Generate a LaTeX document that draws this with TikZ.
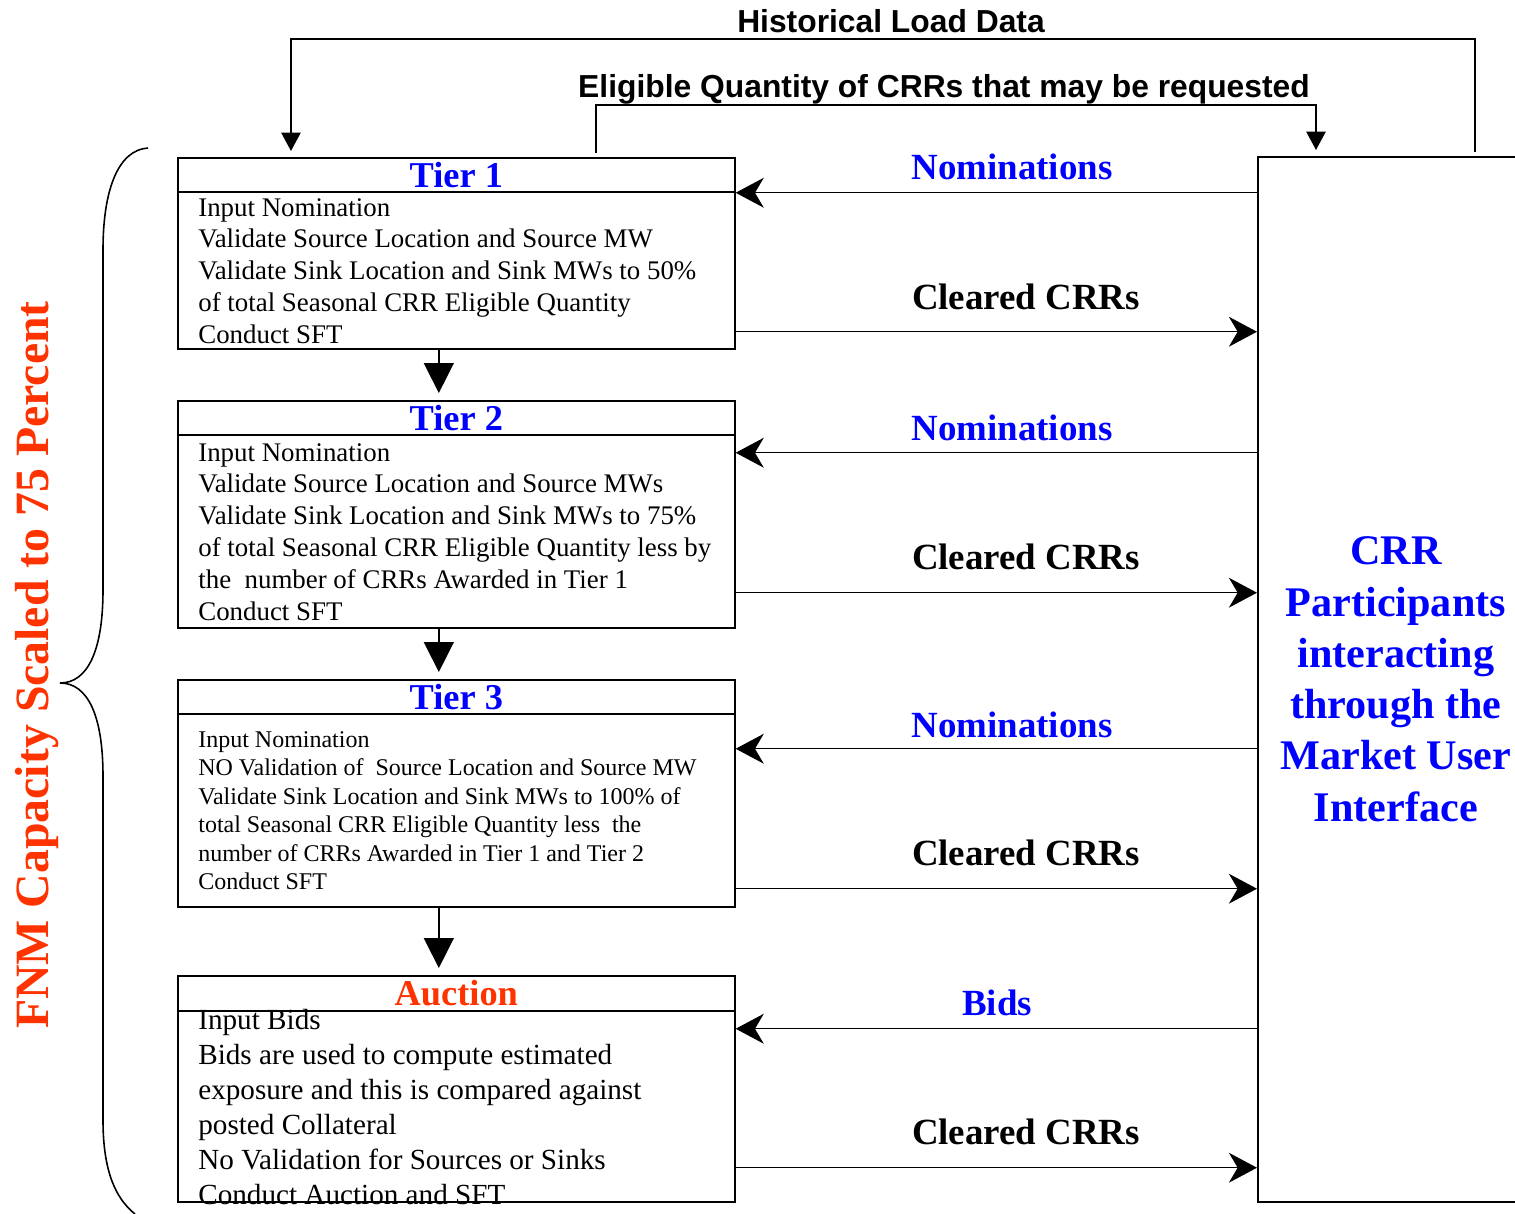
\documentclass[tikz,border=0pt]{standalone}
\usepackage{fontspec}
\setmainfont{Liberation Serif}
\newfontfamily\arialfont{Liberation Sans}
\usetikzlibrary{arrows.meta,positioning,calc}
\definecolor{tierblue}{RGB}{0,0,255}
\definecolor{fnmred}{RGB}{255,51,0}
\tikzset{
		tierbox/.style={draw, line width=1pt, inner sep=0pt, anchor=north west,
			minimum width=11.14cm},
		tierhead/.style={draw, line width=1pt, inner sep=0pt, anchor=north,
			minimum width=11.14cm, minimum height=0.68cm, text=tierblue,
			font=\fontsize{20.7}{24}\selectfont\bfseries},
		tiertext/.style={inner sep=0pt, anchor=north west, align=left},
		flowlbl/.style={inner sep=0pt, anchor=base,
			font=\fontsize{21}{25}\selectfont\bfseries},
		toplbl/.style={inner sep=0pt, anchor=base,
			font=\arialfont\fontsize{18.1}{22}\selectfont\bfseries},
		down/.style={-{Triangle[length=17pt,width=17pt]}, line width=0.8pt,
			shorten >=0.14cm},
		flow/.style={-{Stealth[length=16pt,width=17pt,inset=5pt]}, line width=0.8pt},
		feed/.style={-{Triangle[length=10.5pt,width=11pt]}, line width=1pt,
			shorten <=0.08cm, shorten >=0.12cm},
	}
\begin{document}
\begin{tikzpicture}[x=0.02cm, y=-0.02cm]
	\useasboundingbox (0,0) rectangle (1515,1214);

	% tier boxes
	\node[tierbox, minimum height=3.82cm] (tier1) at (177,157) {};
	\node[tierbox, minimum height=4.54cm] (tier2) at (177,400) {};
	\node[tierbox, minimum height=4.54cm] (tier3) at (177,679) {};
	\node[tierbox, minimum height=4.52cm] (auction) at (177,975) {};

	\node[tierhead] (head1) at (tier1.north) {Tier 1};
	\node[tierhead] (head2) at (tier2.north) {Tier 2};
	\node[tierhead] (head3) at (tier3.north) {Tier 3};
	\node[tierhead, minimum height=0.70cm, text=fnmred] (head4) at (auction.north) {Auction};

	\node[tiertext, font=\fontsize{15.3}{18.1}\selectfont] (txt1) at (198,198)
		{Input Nomination\\Validate Source Location and Source MW\\
		Validate Sink Location and Sink MWs to 50\%\\
		of total Seasonal CRR Eligible Quantity\\Conduct SFT};
	\node[tiertext, font=\fontsize{15.3}{18.1}\selectfont] (txt2) at (198,443)
		{Input Nomination\\Validate Source Location and Source MWs\\
		Validate Sink Location and Sink MWs to 75\%\\
		of total Seasonal CRR Eligible Quantity less by\\
		the\ \ number of CRRs Awarded in Tier 1\\Conduct SFT};
	\node[tiertext, font=\fontsize{13.65}{16.2}\selectfont] (txt3) at (198,731)
		{Input Nomination\\NO Validation of\ \ Source Location and Source MW\\
		Validate Sink Location and Sink MWs to 100\% of\\
		total Seasonal CRR Eligible Quantity less\ \ the\\
		number of CRRs Awarded in Tier 1 and Tier 2\\Conduct SFT};
	\node[tiertext, font=\fontsize{16.6}{19.9}\selectfont] (txt4) at (198,1009)
		{Input Bids\\Bids are used to compute estimated\\
		exposure and this is compared against\\posted Collateral\\
		No Validation for Sources or Sinks\\Conduct Auction and SFT};

	% participants
	\node[draw, line width=1pt, anchor=north west, minimum width=5.52cm,
		minimum height=20.9cm, align=center, text=tierblue,
		font=\fontsize{24}{29.2}\selectfont\bfseries] (crr) at (1257,156)
		{CRR\\Participants\\interacting\\through the\\Market User\\Interface};

	% tier to tier
	\draw[down] ([xshift=-0.35cm]tier1.south) -- ([xshift=-0.35cm]tier2.north);
	\draw[down] ([xshift=-0.35cm]tier2.south) -- ([xshift=-0.35cm]tier3.north);
	\draw[down] ([xshift=-0.35cm]tier3.south) -- ([xshift=-0.35cm]auction.north);

	% nominations and cleared CRRs
	\coordinate (nom1) at (head1.south east);
	\coordinate (nom2) at ([yshift=-0.34cm]head2.south east);
	\coordinate (nom3) at ([yshift=-0.68cm]head3.south east);
	\coordinate (nom4) at ([yshift=-0.34cm]head4.south east);
	\coordinate (clr1) at ([yshift=0.36cm]tier1.south east);
	\coordinate (clr2) at ([yshift=0.72cm]tier2.south east);
	\coordinate (clr3) at ([yshift=0.38cm]tier3.south east);
	\coordinate (clr4) at ([yshift=0.70cm]auction.south east);

	\draw[flow] (nom1 -| crr.west) -- (nom1);
	\draw[flow] (nom2 -| crr.west) -- (nom2);
	\draw[flow] (nom3 -| crr.west) -- (nom3);
	\draw[flow] (nom4 -| crr.west) -- (nom4);
	\draw[flow] (clr1) -- (clr1 -| crr.west);
	\draw[flow] (clr2) -- (clr2 -| crr.west);
	\draw[flow] (clr3) -- (clr3 -| crr.west);
	\draw[flow] (clr4) -- (clr4 -| crr.west);

	\node[flowlbl, text=tierblue] (nomlbl1) at (1012,179) {Nominations};
	\node[flowlbl, text=tierblue] (nomlbl2) at (1012,440) {Nominations};
	\node[flowlbl, text=tierblue] (nomlbl3) at (1012,737) {Nominations};
	\node[flowlbl, text=tierblue] (bidlbl) at (997,1015) {Bids};
	\node[flowlbl] (clrlbl1) at (1026,309) {Cleared CRRs};
	\node[flowlbl] (clrlbl2) at (1026,569) {Cleared CRRs};
	\node[flowlbl] (clrlbl3) at (1026,865) {Cleared CRRs};
	\node[flowlbl] (clrlbl4) at (1026,1144) {Cleared CRRs};

	% feedback on top
	\draw[feed] ([xshift=4.36cm]crr.north west) -- ++(0,-117)
		-| ([xshift=2.28cm]tier1.north west);
	\draw[feed] ([xshift=8.38cm]tier1.north west) -- ++(0,-52)
		-| ([xshift=1.18cm]crr.north west);
	\node[toplbl] (histlbl) at (891,32) {Historical Load Data};
	\node[toplbl] (eliglbl) at (944,97) {Eligible Quantity of CRRs that may be requested};

	% brace
	\draw[line width=0.9pt] (148,148) .. controls (118,150) and (103,190) .. (103,250)
		-- (103,590) .. controls (103,650) and (88,683) .. (60,683)
		.. controls (88,683) and (103,716) .. (103,776)
		-- (103,1120) .. controls (103,1170) and (115,1198) .. (135,1214);
	\node[rotate=90, anchor=base, inner sep=0pt, text=fnmred,
		font=\fontsize{27.2}{30}\selectfont\bfseries] (fnm) at (49,665)
		{FNM Capacity Scaled to 75 Percent};
\end{tikzpicture}
\end{document}
